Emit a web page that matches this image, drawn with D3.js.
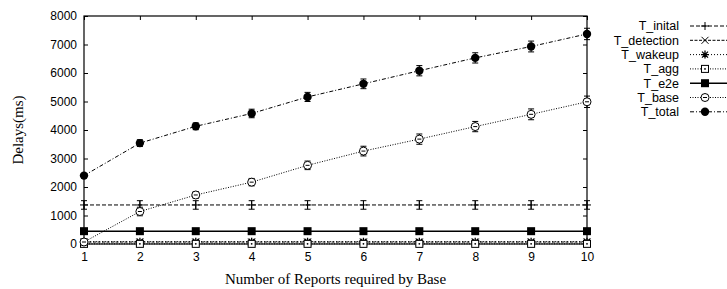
<!DOCTYPE html>
<html>
<head>
<meta charset="utf-8">
<script src="https://cdn.jsdelivr.net/npm/d3@7"></script>
<style>
  body { margin: 0; background: #fff; }
  text { fill: #000; }
</style>
</head>
<body>
<script>
var width = 727;
var height = 289;

// data
var reports = [1, 2, 3, 4, 5, 6, 7, 8, 9, 10];
var tInital = [1370, 1370, 1370, 1370, 1370, 1370, 1370, 1370, 1370, 1370];
var tDetection = [70, 70, 70, 70, 70, 70, 70, 70, 70, 70];
var tWakeup = [80, 80, 80, 80, 80, 80, 80, 80, 80, 80];
var tAgg = [5, 5, 5, 5, 5, 5, 5, 5, 5, 5];
var tE2e = [450, 450, 450, 450, 450, 450, 450, 450, 450, 450];
var tBase = [70, 1140, 1720, 2170, 2760, 3260, 3680, 4120, 4550, 4990];
var tTotal = [2400, 3540, 4130, 4580, 5160, 5620, 6080, 6530, 6930, 7370];
var errInital = [150, 150, 150, 150, 150, 150, 150, 150, 150, 150];
var errSmall = [40, 40, 40, 40, 40, 40, 40, 40, 40, 40];
var errBase = [60, 150, 120, 130, 150, 170, 180, 180, 190, 200];
var errTotal = [80, 120, 120, 150, 160, 170, 180, 180, 190, 200];
var yTicks = [0, 1000, 2000, 3000, 4000, 5000, 6000, 7000, 8000];

var series = [
  { name: "T_inital", values: tInital, err: errInital, dash: "4,2", mark: "plus" },
  { name: "T_detection", values: tDetection, err: errSmall, dash: "3,1.5", mark: "cross" },
  { name: "T_wakeup", values: tWakeup, err: errSmall, dash: "1,2", mark: "star" },
  { name: "T_agg", values: tAgg, err: errSmall, dash: "1,1.5", mark: "box" },
  { name: "T_e2e", values: tE2e, err: errSmall, dash: null, mark: "fbox" },
  { name: "T_base", values: tBase, err: errBase, dash: "1,1.5", mark: "circle" },
  { name: "T_total", values: tTotal, err: errTotal, dash: "4,2,1,2", mark: "fcircle" }
];

var margin = { left: 84, right: 140, top: 16, bottom: 45 };

var svg = d3.select("body").append("svg")
  .attr("width", width).attr("height", height);

var x = d3.scaleLinear().domain([1, 10]).range([margin.left, width - margin.right]);
var y = d3.scaleLinear().domain([0, 8000]).range([height - margin.bottom, margin.top]);

var x0 = x.range()[0], x1 = x.range()[1];
var y0 = y.range()[0], y1 = y.range()[1];

// axes: gnuplot style, ticks pointing inward on all sides
svg.append("g")
  .attr("transform", "translate(0," + y0 + ")")
  .call(d3.axisBottom(x).tickValues(reports).tickFormat(d3.format("d")).tickSize(-4).tickPadding(8))
  .call(g => g.select(".domain").remove());
svg.append("g")
  .attr("transform", "translate(0," + y1 + ")")
  .call(d3.axisTop(x).tickValues(reports).tickSize(-4).tickFormat(""))
  .call(g => g.select(".domain").remove());
svg.append("g")
  .attr("transform", "translate(" + x0 + ",0)")
  .call(d3.axisLeft(y).tickValues(yTicks).tickFormat(d3.format("d")).tickSize(-4).tickPadding(7))
  .call(g => g.select(".domain").remove());
svg.append("g")
  .attr("transform", "translate(" + x1 + ",0)")
  .call(d3.axisRight(y).tickValues(yTicks).tickSize(-4).tickFormat(""))
  .call(g => g.select(".domain").remove());

svg.selectAll(".tick text")
  .style("font-family", "'Liberation Sans', Arial, sans-serif")
  .style("font-size", "12px");
svg.selectAll(".tick line").attr("stroke", "#000");

svg.append("rect")
  .attr("x", x0).attr("y", y1)
  .attr("width", x1 - x0).attr("height", y0 - y1)
  .attr("fill", "none").attr("stroke", "#000").attr("stroke-width", 1.2);

// axis titles
svg.append("text")
  .attr("x", (x0 + x1) / 2).attr("y", 284)
  .attr("text-anchor", "middle")
  .style("font-family", "'Liberation Serif', 'Times New Roman', serif")
  .style("font-size", "15px")
  .text("Number of Reports required by Base");
svg.append("text")
  .attr("transform", "translate(23," + ((y0 + y1) / 2) + ") rotate(-90)")
  .attr("text-anchor", "middle")
  .style("font-family", "'Liberation Serif', 'Times New Roman', serif")
  .style("font-size", "15px")
  .text("Delays(ms)");

function drawMark(g, type, cx, cy) {
  var s = 4;
  if (type === "plus") {
    g.append("path").attr("d", "M" + (cx - s) + "," + cy + "H" + (cx + s) + "M" + cx + "," + (cy - s) + "V" + (cy + s))
      .attr("stroke", "#000").attr("fill", "none");
  } else if (type === "cross") {
    g.append("path").attr("d", "M" + (cx - 3.5) + "," + (cy - 3.5) + "L" + (cx + 3.5) + "," + (cy + 3.5) +
      "M" + (cx - 3.5) + "," + (cy + 3.5) + "L" + (cx + 3.5) + "," + (cy - 3.5))
      .attr("stroke", "#000").attr("fill", "none");
  } else if (type === "star") {
    g.append("path").attr("d", "M" + (cx - s) + "," + cy + "H" + (cx + s) + "M" + cx + "," + (cy - s) + "V" + (cy + s) +
      "M" + (cx - 3) + "," + (cy - 3) + "L" + (cx + 3) + "," + (cy + 3) +
      "M" + (cx - 3) + "," + (cy + 3) + "L" + (cx + 3) + "," + (cy - 3))
      .attr("stroke", "#000").attr("stroke-width", 1.3).attr("fill", "none");
  } else if (type === "box") {
    g.append("rect").attr("x", cx - 3.5).attr("y", cy - 3.5).attr("width", 7).attr("height", 7)
      .attr("fill", "#fff").attr("stroke", "#000");
    g.append("circle").attr("cx", cx).attr("cy", cy).attr("r", 0.9).attr("fill", "#000");
  } else if (type === "fbox") {
    g.append("rect").attr("x", cx - 4).attr("y", cy - 4).attr("width", 8).attr("height", 8)
      .attr("fill", "#000");
  } else if (type === "circle") {
    g.append("circle").attr("cx", cx).attr("cy", cy).attr("r", 4)
      .attr("fill", "#fff").attr("stroke", "#000");
    g.append("path").attr("d", "M" + (cx - 2) + "," + cy + "H" + (cx + 2))
      .attr("stroke", "#000");
  } else if (type === "fcircle") {
    g.append("circle").attr("cx", cx).attr("cy", cy).attr("r", 4.2).attr("fill", "#000");
  }
}

var line = d3.line()
  .x(function (d, i) { return x(reports[i]); })
  .y(function (d) { return y(d); });

var plot = svg.append("g");

series.forEach(function (s) {
  var g = plot.append("g");
  g.append("path")
    .attr("d", line(s.values))
    .attr("fill", "none")
    .attr("stroke", "#000")
    .attr("stroke-width", s.dash ? 1 : 1.5)
    .attr("stroke-dasharray", s.dash);

  // error bars
  s.values.forEach(function (v, i) {
    var cx = x(reports[i]);
    var top = y(v + s.err[i]), bot = y(Math.max(0, v - s.err[i]));
    g.append("path")
      .attr("d", "M" + cx + "," + top + "V" + bot +
        "M" + (cx - 3) + "," + top + "H" + (cx + 3) +
        "M" + (cx - 3) + "," + bot + "H" + (cx + 3))
      .attr("stroke", "#000").attr("stroke-width", 1).attr("fill", "none");
  });

  s.values.forEach(function (v, i) {
    drawMark(g, s.mark, x(reports[i]), y(v));
  });
});

// legend
var legend = svg.append("g");
series.forEach(function (s, i) {
  var ly = 26 + i * 14.3;
  legend.append("text")
    .attr("x", 679).attr("y", ly).attr("dy", "0.35em")
    .attr("text-anchor", "end")
    .style("font-family", "'Liberation Sans', Arial, sans-serif")
    .style("font-size", "12.5px")
    .text(s.name);
  legend.append("path")
    .attr("d", "M690," + ly + "H727")
    .attr("stroke", "#000")
    .attr("stroke-width", s.dash ? 1 : 1.5)
    .attr("stroke-dasharray", s.dash)
    .attr("fill", "none");
  drawMark(legend, s.mark, 705, ly);
});
</script>
</body>
</html>
